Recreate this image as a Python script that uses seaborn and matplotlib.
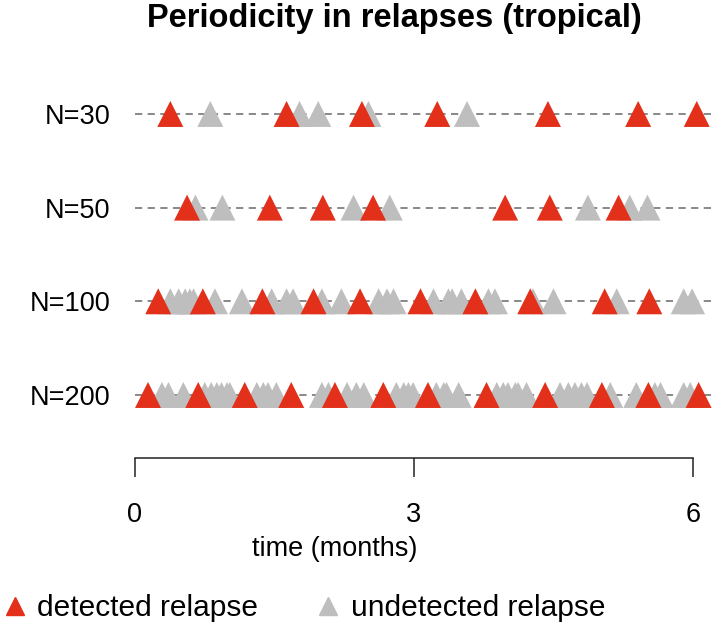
import pandas as pd
import numpy as np
import matplotlib
matplotlib.use("Agg")
import matplotlib.pyplot as plt
from matplotlib.lines import Line2D
import seaborn as sns

# relapse times (months)
row_labels = ["N=30", "N=50", "N=100", "N=200"]

n30_detected = [0.38, 1.63, 2.44, 3.25, 4.44, 5.41, 6.04]
n30_undetected = [0.81, 1.77, 1.97, 2.51, 3.57]

n50_detected = [0.56, 1.45, 2.02, 2.56, 3.98, 4.46, 5.20]
n50_undetected = [0.65, 0.94, 2.35, 2.74, 4.87, 5.32, 5.51]

n100_detected = [0.25, 0.73, 1.37, 1.92, 2.42, 3.07, 3.66, 4.25, 5.05, 5.53]
n100_undetected = [0.38, 0.47, 0.54, 0.59, 0.63, 0.86, 1.15, 1.47, 1.63, 1.70,
                   2.01, 2.22, 2.62, 2.71, 2.78, 3.21, 3.37, 3.41, 3.51, 3.80,
                   3.87, 4.28, 4.50, 5.18, 5.90, 5.99]

n200_detected = [0.14, 0.68, 1.18, 1.68, 2.15, 2.67, 3.15, 3.78, 4.41, 5.02,
                 5.52, 6.06]
n200_undetected = [0.29, 0.36, 0.52, 0.75, 0.82, 0.88, 0.93, 0.99, 1.02, 1.31,
                   1.38, 1.43, 1.52, 2.01, 2.08, 2.28, 2.38, 2.46, 2.81, 2.89,
                   2.94, 2.99, 3.24, 3.32, 3.35, 3.48, 3.89, 3.96, 4.01, 4.09,
                   4.12, 4.21, 4.57, 4.66, 4.73, 4.80, 4.86, 5.11, 5.39, 5.59,
                   5.65, 5.90, 5.97]

x_ticks = [0, 3, 6]

RED = "#E2301A"
GREY = "#BEBEBE"

sns.set_theme(style="white")
plt.rcParams['font.family'] = ['Liberation Sans', 'DejaVu Sans']
plt.rcParams['text.color'] = 'black'
plt.rcParams['xtick.color'] = 'black'
plt.rcParams['ytick.color'] = 'black'

# build long table, undetected first so red sits on top
rows = {
    "N=30": (n30_detected, n30_undetected),
    "N=50": (n50_detected, n50_undetected),
    "N=100": (n100_detected, n100_undetected),
    "N=200": (n200_detected, n200_undetected),
}
ypos = {lab: len(row_labels) - i for i, lab in enumerate(row_labels)}
recs = []
for status in ["undetected", "detected"]:
    for lab, (det, und) in rows.items():
        vals = det if status == "detected" else und
        for t in vals:
            recs.append({"time": t, "row": ypos[lab], "status": status})
df = pd.DataFrame(recs)

fig = plt.figure(figsize=(7.22, 6.29), dpi=100)
ax = fig.add_axes([120 / 722, (629 - 458) / 629, 592 / 722, 398 / 629])

for lab in row_labels:
    ax.hlines(ypos[lab], 0, 6.2, colors="#7f7f7f", linestyles=(0, (4, 3)),
              linewidth=1.3, zorder=1)

sns.scatterplot(data=df, x="time", y="row", hue="status",
                palette={"detected": RED, "undetected": GREY},
                marker="^", s=350, linewidth=0, legend=False, ax=ax, zorder=2)

ax.set_xlim(-0.161, 6.204)
ax.set_ylim(0.327, 4.576)

ax.set_yticks([ypos[l] for l in row_labels])
ax.set_yticklabels(row_labels, fontsize=19.5)
ax.tick_params(axis="y", length=0, pad=7)

ax.set_xticks(x_ticks)
ax.set_xticklabels([str(t) for t in x_ticks], fontsize=19.5)
ax.tick_params(axis="x", direction="out", length=14, width=1.1, pad=18,
               color="#222222", bottom=True)
for s in ["top", "right", "left"]:
    ax.spines[s].set_visible(False)
ax.spines["bottom"].set_bounds(0, 6)
ax.spines["bottom"].set_color("#222222")
ax.spines["bottom"].set_linewidth(1.1)
ax.set_xlabel("")
ax.set_ylabel("")

fig.text(335 / 722, (629 - 549) / 629, "time (months)", fontsize=19.5,
         ha="center", va="center")
fig.text(394 / 722, (629 - 19) / 629, "Periodicity in relapses (tropical)",
         fontsize=23.5, fontweight="bold", ha="center", va="center")

handles = [Line2D([], [], marker="^", linestyle="none", color=RED, markersize=13),
           Line2D([], [], marker="^", linestyle="none", color=GREY, markersize=13)]
fig.legend(handles, ["detected relapse", "undetected relapse"], ncol=2,
           loc="center left", bbox_to_anchor=(0.0, (629 - 608) / 629),
           frameon=False, fontsize=21.5, handlelength=1.0, handletextpad=0.25,
           columnspacing=1.85, borderaxespad=0, borderpad=0)

fig.savefig("out.png", dpi=100)
